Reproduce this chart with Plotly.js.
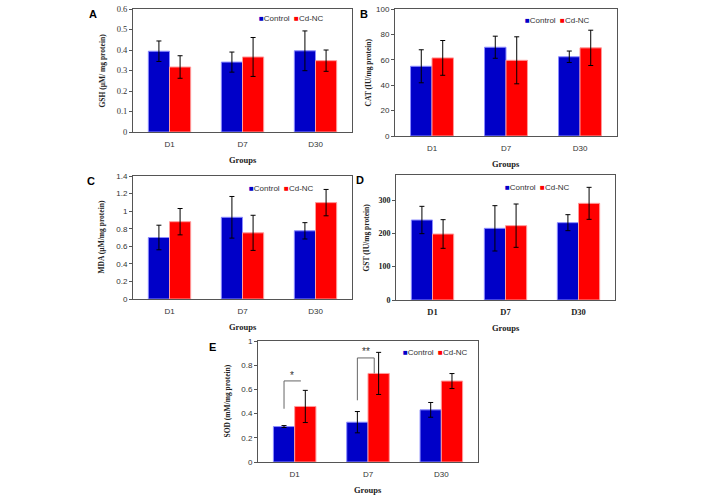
<!DOCTYPE html>
<html><head><meta charset="utf-8">
<script src="https://cdn.plot.ly/plotly-3.0.1.min.js"></script>
<style>html,body{margin:0;padding:0;background:#fff}#chart{width:706px;height:497px}</style>
</head><body><div id="chart"></div>
<script>
// ---- data ----
const groups = ["D1", "D7", "D30"];
const seriesNames = ["Control", "Cd-NC"];

const gshControl = [0.394, 0.341, 0.396];
const gshControlErr = [0.050, 0.049, 0.097];
const gshCdNC = [0.317, 0.366, 0.348];
const gshCdNCErr = [0.055, 0.095, 0.052];

const catControl = [54.9, 69.9, 62.4];
const catControlErr = [13.0, 8.7, 4.5];
const catCdNC = [61.5, 59.6, 69.4];
const catCdNCErr = [13.7, 18.5, 13.9];

const mdaControl = [0.70, 0.93, 0.776];
const mdaControlErr = [0.14, 0.237, 0.093];
const mdaCdNC = [0.88, 0.753, 1.097];
const mdaCdNCErr = [0.15, 0.20, 0.15];

const gstControl = [240, 215, 232];
const gstControlErr = [41, 68, 24];
const gstCdNC = [198, 223, 290];
const gstCdNCErr = [43, 65, 48];

const sodControl = [0.293, 0.329, 0.431];
const sodControlErr = [0.008, 0.088, 0.061];
const sodCdNC = [0.459, 0.732, 0.669];
const sodCdNCErr = [0.133, 0.174, 0.062];

// significance marks on panel E: [group index, left-leg bottom, top, right-leg bottom (null = none), label, label y]
const sodSig = [
  [0, 0.44, 0.67, null, "*", 0.715],
  [1, 0.51, 0.86, 0.732, "**", 0.915]
];

// ---- style ----
const BLUE = "#0000C8", RED = "#FF0000";
const BARGAP = 0.42;
const SANS = "Liberation Sans, Arial, sans-serif";
const SERIF = "Liberation Serif, Times New Roman, serif";
const W = 706, H = 497;
const px = (a, b) => [a / W, b / W];
const py = (top, bot) => [1 - bot / H, 1 - top / H];

const panels = [
  {id: "", letter: "A", c: gshControl, ce: gshControlErr, d: gshCdNC, de: gshCdNCErr,
   xd: px(133, 352), yd: py(9, 132), range: [0, 0.6], dtick: 0.1,
   ytitle: "GSH (µM/ mg protein)", tickSerifY: true, bold: false,
   letterOff: 34, letterTop: 3, titleOff: 31, legX: 0.565, legY: 9},
  {id: "2", letter: "B", c: catControl, ce: catControlErr, d: catCdNC, de: catCdNCErr,
   xd: px(395, 617), yd: py(9, 136), range: [0, 100], dtick: 20,
   ytitle: "CAT (IU/mg protein)", tickSerifY: false, bold: false,
   letterOff: 25, letterTop: 3, titleOff: 27, legX: 0.578, legY: 11},
  {id: "3", letter: "C", c: mdaControl, ce: mdaControlErr, d: mdaCdNC, de: mdaCdNCErr,
   xd: px(133, 352), yd: py(176, 299), range: [0, 1.4], dtick: 0.2,
   ytitle: "MDA (µM/mg protein)", tickSerifY: false, bold: false,
   letterOff: 36, letterTop: 3, titleOff: 32, legX: 0.52, legY: 12},
  {id: "4", letter: "D", c: gstControl, ce: gstControlErr, d: gstCdNC, de: gstCdNCErr,
   xd: px(396, 615), yd: py(175, 300), range: [0, 375], dtick: 100,
   ytitle: "GST (IU/mg protein)", tickSerifY: true, bold: true,
   letterOff: 30, letterTop: 3, titleOff: 30, legX: 0.49, legY: 12},
  {id: "5", letter: "E", c: sodControl, ce: sodControlErr, d: sodCdNC, de: sodCdNCErr,
   xd: px(258, 478), yd: py(341, 462), range: [0, 1], dtick: 0.2,
   ytitle: "SOD (mM/mg protein)", tickSerifY: false, bold: false,
   letterOff: 40, letterTop: 2, titleOff: 31, legX: 0.65, legY: 11}
];

const traces = [];
const layout = {
  width: W, height: H, margin: {l: 0, r: 0, t: 0, b: 0},
  paper_bgcolor: "#fff", plot_bgcolor: "#fff",
  barmode: "group", bargap: BARGAP, bargroupgap: 0,
  showlegend: false, annotations: [], shapes: [],
  font: {family: SANS, size: 7, color: "#333"}
};

panels.forEach(p => {
  const xa = "x" + p.id, ya = "y" + p.id;
  const err = arr => ({type: "data", array: arr, visible: true, color: "#000", thickness: 1, width: 2.5});
  traces.push({type: "bar", name: seriesNames[0], x: groups, y: p.c, error_y: err(p.ce),
    xaxis: xa, yaxis: ya, marker: {color: BLUE, line: {color: "#8c8cff", width: 1}}, hoverinfo: "none"});
  traces.push({type: "bar", name: seriesNames[1], x: groups, y: p.d, error_y: err(p.de),
    xaxis: xa, yaxis: ya, marker: {color: RED, line: {color: "#ff9a9a", width: 1}}, hoverinfo: "none"});

  const tickFontX = p.bold ? {family: SERIF, size: 8.5, color: "#222", weight: "bold"} : {family: SANS, size: 8, color: "#333"};
  const tickFontY = p.bold ? {family: SERIF, size: 8, color: "#222", weight: "bold"} :
    (p.tickSerifY ? {family: SERIF, size: 8.5, color: "#333"} : {family: SANS, size: 8, color: "#333"});

  layout["xaxis" + p.id] = {domain: p.xd, anchor: ya, type: "category", showgrid: false,
    showline: true, linecolor: "#555", linewidth: 1, mirror: true, ticks: "", tickfont: tickFontX,
    ticklabelstandoff: 4, fixedrange: true};
  layout["yaxis" + p.id] = {domain: p.yd, anchor: xa, range: p.range, dtick: p.dtick, tick0: 0,
    showgrid: false, zeroline: false, showline: true, linecolor: "#555", linewidth: 1, mirror: true,
    ticks: "outside", ticklen: 3, tickcolor: "#555", tickfont: tickFontY, fixedrange: true};

  const x0 = p.xd[0], x1 = p.xd[1], y0 = p.yd[0], y1 = p.yd[1];
  // panel letter
  layout.annotations.push({xref: "paper", yref: "paper", x: x0 - p.letterOff / W, y: y1 + p.letterTop / H,
    xanchor: "right", yanchor: "top", showarrow: false, text: "<b>" + p.letter + "</b>",
    font: {family: SANS, size: 11, color: "#000"}});
  // y title
  layout.annotations.push({xref: "paper", yref: "paper", x: x0 - p.titleOff / W, y: (y0 + y1) / 2,
    xanchor: "center", yanchor: "middle", textangle: -90, showarrow: false, text: "<b>" + p.ytitle + "</b>",
    font: {family: SERIF, size: 7.5, color: "#222"}});
  // x title
  layout.annotations.push({xref: "paper", yref: "paper", x: (x0 + x1) / 2, y: y0 - 21 / H,
    xanchor: "center", yanchor: "top", showarrow: false, text: "<b>Groups</b>",
    font: {family: SERIF, size: 8.5, color: "#222"}});
  // legend
  layout.annotations.push({xref: "paper", yref: "paper", x: x0 + (x1 - x0) * p.legX, y: y1 - p.legY / H,
    xanchor: "left", yanchor: "middle", showarrow: false,
    text: '<span style="color:' + BLUE + '">■</span>' + seriesNames[0] + '  <span style="color:' + RED + '">■</span>' + seriesNames[1],
    font: {family: SANS, size: 8, color: "#333"}});
});

// significance brackets on panel E
const off = (1 - BARGAP) / 4;
sodSig.forEach(s => {
  const gi = s[0];
  const xl = gi - off, xr = gi + off - 0.06;
  const line = {color: "#666", width: 1};
  layout.shapes.push({type: "line", xref: "x5", yref: "y5", x0: xl, x1: xl, y0: s[1], y1: s[2], line});
  layout.shapes.push({type: "line", xref: "x5", yref: "y5", x0: xl, x1: xr, y0: s[2], y1: s[2], line});
  if (s[3] !== null) layout.shapes.push({type: "line", xref: "x5", yref: "y5", x0: xr, x1: xr, y0: s[2], y1: s[3], line});
  layout.annotations.push({xref: "x5", yref: "y5", x: (xl + xr) / 2, y: s[5], showarrow: false,
    text: s[4], font: {family: SANS, size: 10, color: "#333"}, yanchor: "middle"});
});

Plotly.newPlot("chart", traces, layout, {displayModeBar: false, staticPlot: true});
</script></body></html>
